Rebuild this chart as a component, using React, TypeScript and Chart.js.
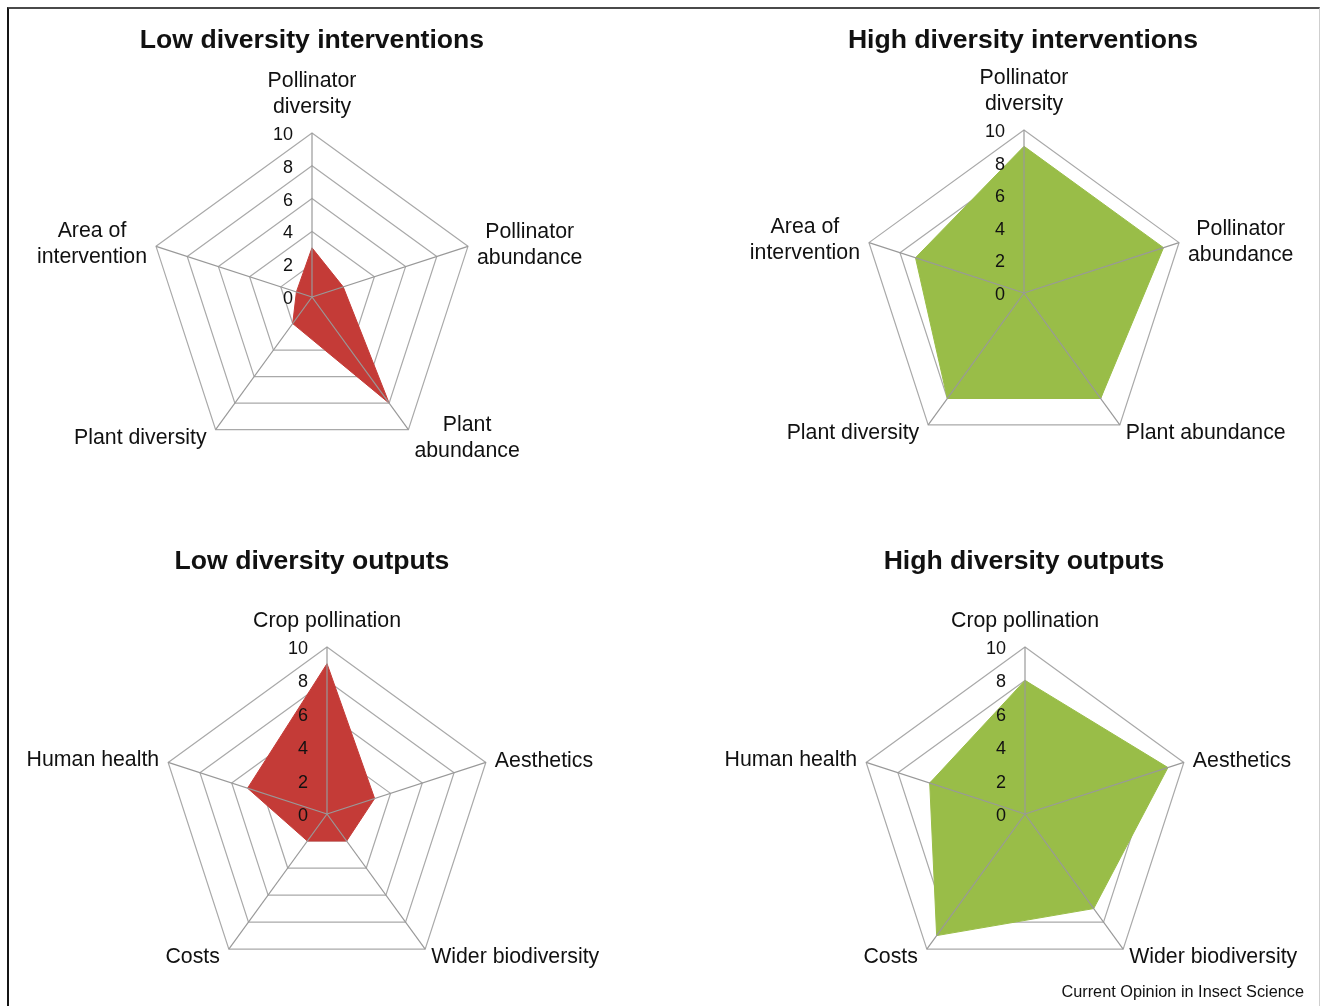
import React, { useEffect, useRef } from "react";
import { Chart, registerables } from "chart.js";

Chart.register(...registerables);

// ---------- data ----------
const lowInterventionLabels = [
  ["Pollinator", "diversity"],
  ["Pollinator", "abundance"],
  ["Plant", "abundance"],
  ["Plant diversity"],
  ["Area of", "intervention"],
];
const highInterventionLabels = [
  ["Pollinator", "diversity"],
  ["Pollinator", "abundance"],
  ["Plant abundance"],
  ["Plant diversity"],
  ["Area of", "intervention"],
];
const outputLabels = [
  ["Crop pollination"],
  ["Aesthetics"],
  ["Wider biodiversity"],
  ["Costs"],
  ["Human health"],
];

const lowInterventionValues = [3, 2, 8, 2, 1];
const highInterventionValues = [9, 9, 8, 8, 7];
const lowOutputValues = [9, 3, 2, 2, 5];
const highOutputValues = [8, 9, 7, 9, 6];

const scaleMin = 0;
const scaleMax = 10;
const scaleStep = 2;

const chartTitles = [
  "Low diversity interventions",
  "High diversity interventions",
  "Low diversity outputs",
  "High diversity outputs",
];
const sourceText = "Current Opinion in Insect Science";

// ---------- styles ----------
const RED = "#C43B37";
const GREEN = "#99BD48";
const GRID = "#a9a9a9";
const SPOKE = "#999999";
const FONT = "'Liberation Sans', Arial, Helvetica, sans-serif";

type Panel = {
  title: string;
  labels: string[][];
  values: number[];
  color: string;
  qx: number;
  qy: number;
  w: number;
  h: number;
  cx: number;
  cy: number;
  r: number;
  titleX: number;
  titleY: number;
};

const panels: Panel[] = [
  { title: chartTitles[0], labels: lowInterventionLabels, values: lowInterventionValues, color: RED,
    qx: 0, qy: 0, w: 660, h: 503, cx: 312, cy: 297, r: 164, titleX: 312, titleY: 39 },
  { title: chartTitles[1], labels: highInterventionLabels, values: highInterventionValues, color: GREEN,
    qx: 660, qy: 0, w: 660, h: 503, cx: 1024, cy: 293, r: 163, titleX: 1023, titleY: 39 },
  { title: chartTitles[2], labels: outputLabels, values: lowOutputValues, color: RED,
    qx: 0, qy: 503, w: 660, h: 503, cx: 327, cy: 814, r: 167, titleX: 312, titleY: 560 },
  { title: chartTitles[3], labels: outputLabels, values: highOutputValues, color: GREEN,
    qx: 660, qy: 503, w: 660, h: 503, cx: 1025, cy: 814, r: 167, titleX: 1024, titleY: 560 },
];

const radarDecor = {
  id: "radarDecor",
  afterDatasetsDraw(chart: any) {
    const s = chart.scales.r;
    const ctx = chart.ctx as CanvasRenderingContext2D;
    const n = chart.data.labels.length;
    ctx.save();
    ctx.strokeStyle = SPOKE;
    ctx.lineWidth = 1.2;
    for (let i = 0; i < n; i++) {
      const p = s.getPointPosition(i, s.drawingArea);
      ctx.beginPath();
      ctx.moveTo(s.xCenter, s.yCenter);
      ctx.lineTo(p.x, p.y);
      ctx.stroke();
    }
    ctx.restore();
  },
  afterDraw(chart: any) {
    const s = chart.scales.r;
    const ctx = chart.ctx as CanvasRenderingContext2D;
    ctx.save();
    // tick labels
    ctx.font = `18px ${FONT}`;
    ctx.fillStyle = "#111";
    ctx.textAlign = "right";
    ctx.textBaseline = "middle";
    s.ticks.forEach((t: any) => {
      const d = s.getDistanceFromCenterForValue(t.value);
      ctx.fillText(String(t.value), s.xCenter - 19, s.yCenter - d + 2);
    });
    // point labels
    ctx.font = `21.3px ${FONT}`;
    ctx.textAlign = "center";
    const lh = 26;
    chart.data.labels.forEach((lab: any, i: number) => {
      const lines: string[] = Array.isArray(lab) ? lab : [lab];
      const v = s.getPointPosition(i, s.drawingArea);
      const bw = Math.max(...lines.map((l) => ctx.measureText(l).width));
      const bh = lines.length * lh;
      const dx = v.x - s.xCenter;
      const dy = v.y - s.yCenter;
      let bx = v.x;
      let by = v.y;
      if (Math.abs(dx) < 2 && dy < 0) {
        bx = v.x;
        by = v.y - 26 - ((lines.length - 1) * lh) / 2;
      } else if (dx > 0 && dy < 0) {
        bx = v.x + 9 + bw / 2;
        by = v.y - 1;
      } else if (dx > 0 && dy > 0) {
        bx = v.x + 6 + bw / 2;
        by = v.y + 8;
      } else if (dx < 0 && dy > 0) {
        bx = v.x - 9 - bw / 2;
        by = v.y + 8;
      } else {
        bx = v.x - 9 - bw / 2;
        by = v.y - 2.5;
      }
      lines.forEach((l, k) => {
        ctx.fillText(l, bx, by - bh / 2 + lh / 2 + k * lh);
      });
    });
    ctx.restore();
  },
};

function RadarPanel({ p }: { p: Panel }) {
  const ref = useRef<HTMLCanvasElement | null>(null);
  useEffect(() => {
    if (!ref.current) return;
    const lx = p.cx - p.qx;
    const ly = p.cy - p.qy;
    const chart = new Chart(ref.current, {
      type: "radar",
      data: {
        labels: p.labels,
        datasets: [
          {
            data: p.values,
            backgroundColor: p.color,
            borderColor: p.color,
            borderWidth: 1,
            pointRadius: 0,
            pointHoverRadius: 0,
            fill: true,
          },
        ],
      },
      options: {
        responsive: false,
        animation: false,
        devicePixelRatio: 1,
        layout: {
          padding: {
            left: lx - p.r,
            right: p.w - (lx + p.r),
            top: ly - p.r,
            bottom: p.h - (ly + p.r),
          },
        },
        plugins: {
          legend: { display: false },
          title: { display: false },
          tooltip: { enabled: false },
        },
        scales: {
          r: {
            min: scaleMin,
            max: scaleMax,
            beginAtZero: true,
            ticks: { stepSize: scaleStep, display: false },
            pointLabels: { display: false },
            angleLines: { display: false },
            grid: { color: GRID, lineWidth: 1.2, circular: false },
          },
        },
      } as any,
      plugins: [radarDecor],
    });
    return () => chart.destroy();
  }, [p]);
  return (
    <canvas
      ref={ref}
      width={p.w}
      height={p.h}
      style={{ position: "absolute", left: p.qx, top: p.qy, width: p.w, height: p.h }}
    />
  );
}

export default function App() {
  useEffect(() => {
    document.body.style.margin = "0";
    document.body.style.overflow = "hidden";
  }, []);
  return (
    <div
      style={{
        position: "relative",
        width: 1320,
        height: 1006,
        overflow: "hidden",
        background: "#fff",
        fontFamily: FONT,
        color: "#111",
      }}
    >
      <div
        style={{
          position: "absolute",
          left: 7,
          top: 7,
          width: 1313,
          height: 1020,
          boxSizing: "border-box",
          borderTop: "2px solid #4a4a4a",
          borderLeft: "2px solid #151515",
          borderRight: "1px solid #cfcfcf",
        }}
      />
      {panels.map((p, i) => (
        <RadarPanel key={i} p={p} />
      ))}
      {panels.map((p, i) => (
        <div
          key={"t" + i}
          style={{
            position: "absolute",
            left: p.titleX - 300,
            top: p.titleY - 15,
            width: 600,
            lineHeight: "30px",
            textAlign: "center",
            fontSize: 26.6,
            fontWeight: "bold",
          }}
        >
          {p.title}
        </div>
      ))}
      <div
        style={{
          position: "absolute",
          right: 16,
          top: 981,
          lineHeight: "20px",
          fontSize: 16.3,
        }}
      >
        {sourceText}
      </div>
    </div>
  );
}
